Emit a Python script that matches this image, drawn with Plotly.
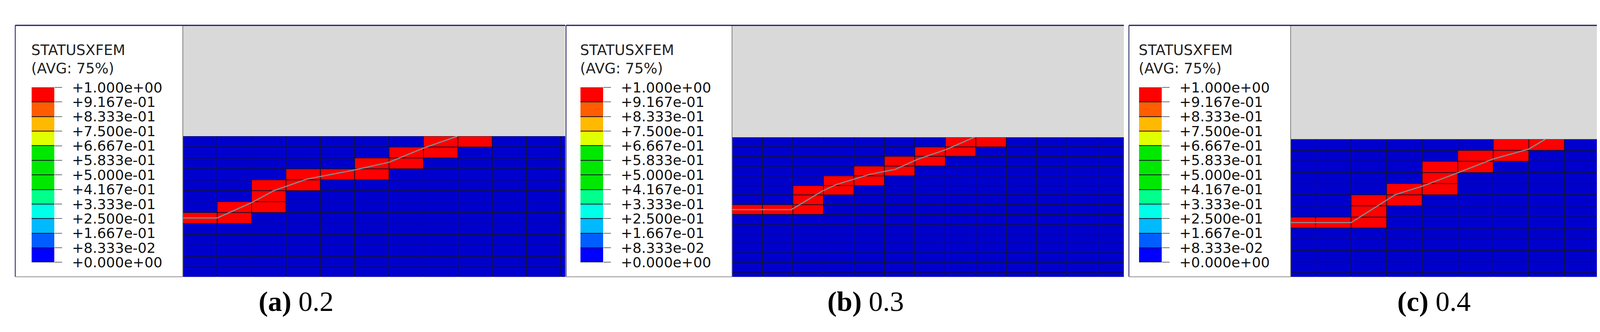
import plotly.graph_objects as go

W, H = 4415, 851

# legend of the contour plot
legend_title = "STATUSXFEM"
legend_sub = "(AVG: 75%)"
legend_ticks = ["+0.000e+00", "+8.333e-02", "+1.667e-01", "+2.500e-01", "+3.333e-01",
                "+4.167e-01", "+5.000e-01", "+5.833e-01", "+6.667e-01", "+7.500e-01",
                "+8.333e-01", "+9.167e-01", "+1.000e+00"]
legend_colors = ["#0000FF", "#005DFF", "#00B9FF", "#00FFE8", "#00FF8B", "#00E800",
                 "#00E800", "#00E800", "#E0FF00", "#FFB900", "#FF5D00", "#FF0000"]

captions = ["(a)", "(b)", "(c)"]
loads = ["0.2", "0.3", "0.4"]

# cracked elements (row from top of the mesh, column) per panel
cracked_a = [(0, 7), (0, 8), (1, 6), (1, 7), (2, 5), (2, 6), (3, 3), (3, 4), (3, 5),
             (4, 2), (4, 3), (5, 2), (6, 1), (6, 2), (7, 0), (7, 1)]
cracked_b = [(0, 7), (0, 8), (1, 6), (1, 7), (2, 5), (2, 6), (3, 4), (3, 5), (4, 3), (4, 4),
             (5, 2), (5, 3), (6, 2), (7, 0), (7, 1), (7, 2)]
cracked_c = [(0, 6), (0, 7), (1, 5), (1, 6), (2, 4), (2, 5), (3, 4), (4, 3), (4, 4),
             (5, 2), (5, 3), (6, 2), (7, 0), (7, 1), (7, 2)]

# crack path in element units
crack_a_x = [0, 1, 2, 2.65, 3.6, 5, 6, 7, 8]
crack_a_y = [7.5, 7.5, 6.1, 5.0, 3.95, 3.1, 2.4, 1.1, 0]
crack_b_x = [0, 1.95, 2.95, 3.43, 4.52, 5.36, 6.08, 7.05, 7.95]
crack_b_y = [7.5, 7.5, 5.6, 4.9, 3.85, 3.33, 2.3, 1.25, 0]
crack_c_x = [0.3, 2.0, 3.24, 4.03, 4.99, 5.99, 7.0, 7.47]
crack_c_y = [7.5, 7.5, 5.0, 4.2, 3.05, 1.8, 0.9, 0]

# panel geometry in pixels
panels = [
    dict(cells=cracked_a, cx=crack_a_x, cy=crack_a_y, left=31, split=460, right=1439,
         top=39, mtop=337, cw=88, ch=29.4, x0=0.0, bar=73, cap=750),
    dict(cells=cracked_b, cx=crack_b_x, cy=crack_b_y, left=1441, split=1866, right=2869,
         top=39, mtop=340, cw=78, ch=26, x0=0.0, bar=1478, cap=2208),
    dict(cells=cracked_c, cx=crack_c_x, cy=crack_c_y, left=2882, split=3296, right=4386,
         top=39, mtop=345, cw=91, ch=30, x0=0.3, bar=2908, cap=3663),
]
bottom = 716


def fx(x):
    return x / W


def fy(y):
    return 1 - y / H


fig = go.Figure()
layout = dict(width=W, height=H, margin=dict(l=0, r=0, t=0, b=0), showlegend=False,
              paper_bgcolor="white", plot_bgcolor="#14142a", shapes=[], annotations=[])

n = len(legend_colors)
bar_scale = []
for k, c in enumerate(legend_colors):
    bar_scale += [[k / n, c], [(k + 1) / n, c]]

for i, p in enumerate(panels):
    ma, la = 2 * i + 1, 2 * i + 2
    sa = lambda a: "" if a == 1 else str(a)
    ncols = int((p["right"] - p["split"]) / p["cw"] + p["x0"]) + 1
    nrows = int((bottom - p["mtop"]) / p["ch"]) + 1
    z = [[0] * ncols for _ in range(nrows)]
    for r, c in p["cells"]:
        z[r][c] = 1
    fig.add_trace(go.Heatmap(
        z=z, x=[c + 0.5 for c in range(ncols)], y=[r + 0.5 for r in range(nrows)],
        colorscale=[[0, "#0000CD"], [1, "#FF0000"]], zmin=0, zmax=1, showscale=False,
        xgap=2, ygap=2, hoverinfo="skip", xaxis="x" + sa(ma), yaxis="y" + sa(ma)))
    fig.add_trace(go.Scatter(
        x=p["cx"], y=p["cy"], mode="lines", line=dict(color="#8a8a8a", width=3),
        hoverinfo="skip", xaxis="x" + sa(ma), yaxis="y" + sa(ma)))
    xr = p["x0"] + (p["right"] - p["split"]) / p["cw"]
    yr = (bottom - p["mtop"]) / p["ch"]
    layout["xaxis" + sa(ma)] = dict(domain=[fx(p["split"]), fx(p["right"])], range=[p["x0"], xr],
                                    visible=False, anchor="y" + sa(ma), fixedrange=True)
    layout["yaxis" + sa(ma)] = dict(domain=[fy(bottom), fy(p["mtop"])], range=[yr, 0],
                                    visible=False, anchor="x" + sa(ma), fixedrange=True)

    # legend colour bar
    fig.add_trace(go.Heatmap(
        z=[[k] for k in range(n)], x=[0], y=[k + 0.5 for k in range(n)],
        colorscale=bar_scale, zmin=0, zmax=n, showscale=False, ygap=2,
        hoverinfo="skip", xaxis="x" + sa(la), yaxis="y" + sa(la)))
    layout["xaxis" + sa(la)] = dict(domain=[fx(p["bar"]), fx(p["bar"] + 58)], range=[-0.5, 0.5],
                                    visible=False, anchor="y" + sa(la), fixedrange=True)
    layout["yaxis" + sa(la)] = dict(
        domain=[fy(677), fy(206)], range=[0, n], side="right", anchor="x" + sa(la),
        tickmode="array", tickvals=list(range(n + 1)), ticktext=legend_ticks,
        ticks="outside", ticklen=19, tickwidth=2, tickcolor="#707070",
        ticklabelstandoff=18, showgrid=False, zeroline=False, showline=False,
        tickfont=dict(family="DejaVu Sans", size=36, color="#111111"), fixedrange=True)

    layout["annotations"] += [
        dict(x=fx(p["bar"] - 3), y=fy(106), xref="paper", yref="paper", text=legend_title,
             showarrow=False, xanchor="left", yanchor="middle",
             font=dict(family="DejaVu Sans", size=37, color="#222222")),
        dict(x=fx(p["bar"] - 3), y=fy(155), xref="paper", yref="paper", text=legend_sub,
             showarrow=False, xanchor="left", yanchor="middle",
             font=dict(family="DejaVu Sans", size=37, color="#222222")),
        dict(x=fx(p["cap"]), y=fy(783), xref="paper", yref="paper",
             text="<b>" + captions[i] + "</b> " + loads[i], showarrow=False,
             xanchor="center", yanchor="middle",
             font=dict(family="Liberation Serif", size=72, color="black")),
    ]
    layout["shapes"] += [
        dict(type="rect", xref="paper", yref="paper", x0=fx(p["split"]), x1=fx(p["right"]),
             y0=fy(p["mtop"]), y1=fy(p["top"]), fillcolor="#D9D9D9", line_width=0, layer="below"),
        dict(type="line", xref="paper", yref="paper", x0=fx(p["split"]), x1=fx(p["split"]),
             y0=fy(bottom), y1=fy(p["top"]), line=dict(color="#808080", width=2)),
        dict(type="line", xref="paper", yref="paper", x0=fx(p["left"]), x1=fx(p["right"]),
             y0=fy(p["top"]), y1=fy(p["top"]), line=dict(color="#1a1a5a", width=3)),
        dict(type="line", xref="paper", yref="paper", x0=fx(p["left"]), x1=fx(p["left"]),
             y0=fy(bottom), y1=fy(p["top"]), line=dict(color="#1a1a5a", width=2)),
        dict(type="line", xref="paper", yref="paper", x0=fx(p["left"]), x1=fx(p["split"]),
             y0=fy(bottom), y1=fy(bottom), line=dict(color="#909090", width=2)),
    ]

# vertical edge seen in the grey region of panel (c)
layout["shapes"].append(dict(type="line", xref="paper", yref="paper", x0=fx(4311), x1=fx(4311),
                             y0=fy(345), y1=fy(39), line=dict(color="#909090", width=2)))

fig.update_layout(**layout)
fig.write_html("out.html")
